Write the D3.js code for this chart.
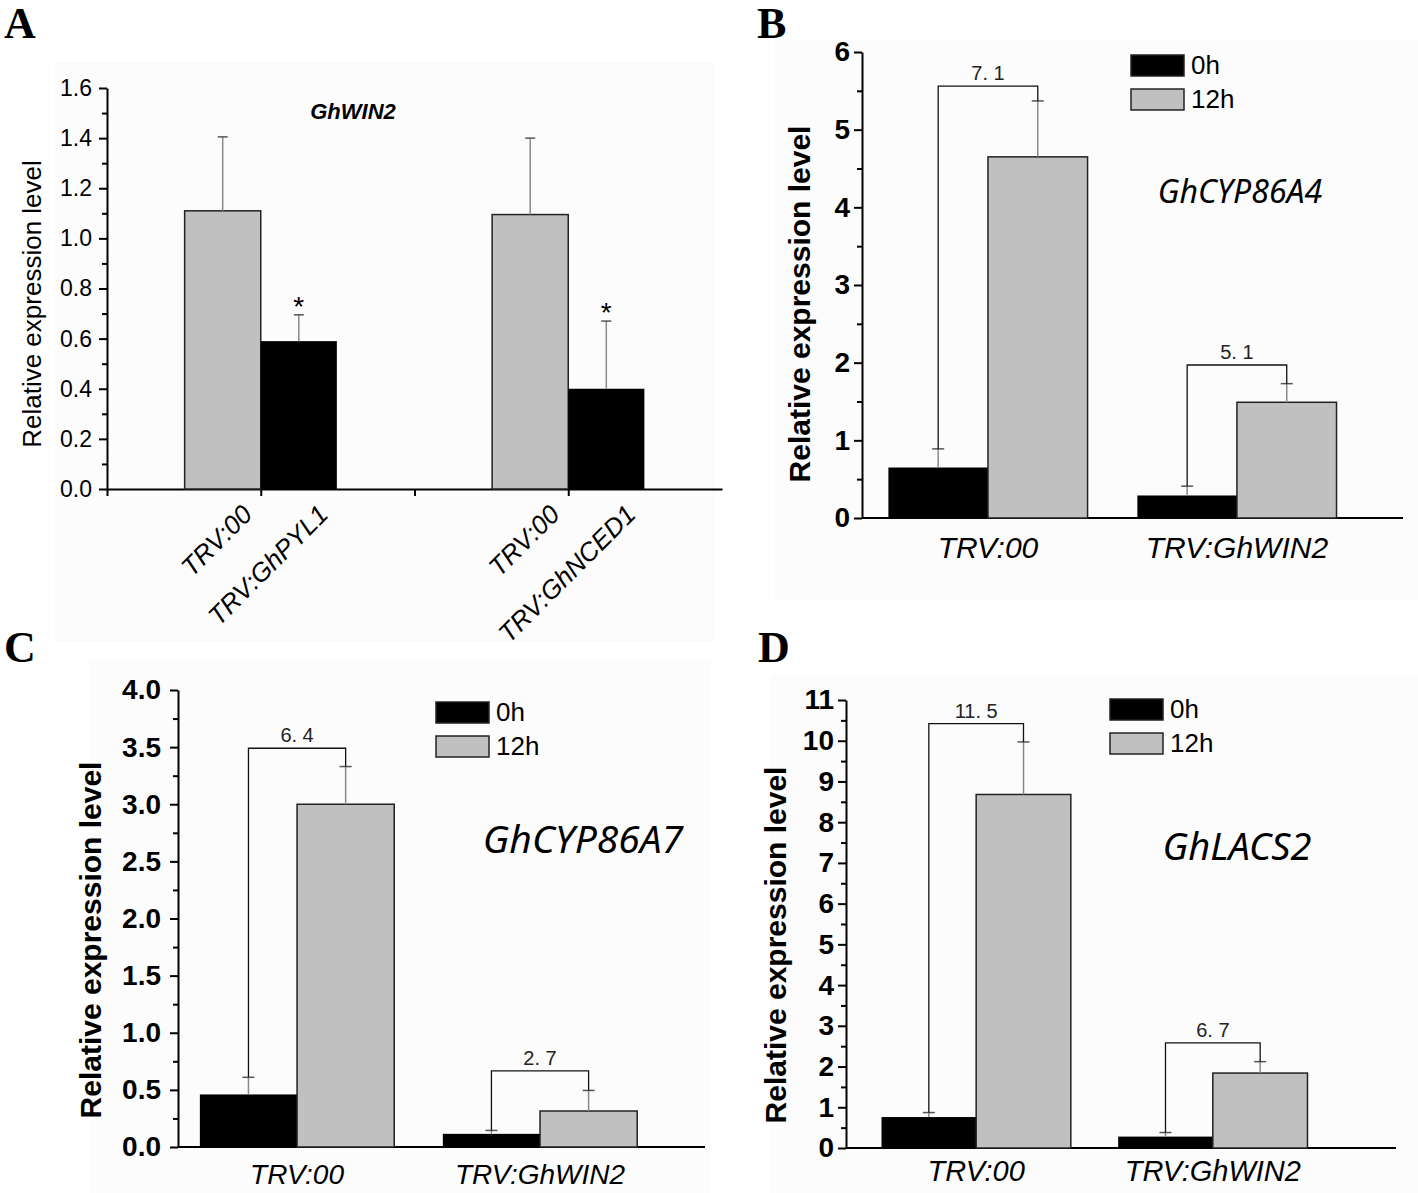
<!DOCTYPE html>
<html><head><meta charset="utf-8">
<script src="https://cdn.jsdelivr.net/npm/d3@7"></script>
<style>body{margin:0;background:#fff}svg{display:block}</style>
</head><body>
<svg id="chart" width="1418" height="1193"></svg>
<script>
// ---------- DATA ----------
// Panel A (GhWIN2)
const aControlLabels = ["TRV:00", "TRV:00"];
const aSilencedLabels = ["TRV:GhPYL1", "TRV:GhNCED1"];
const aControl = [1.11, 1.095];
const aControlErr = [0.295, 0.305];
const aSilenced = [0.59, 0.40];
const aSilencedErr = [0.105, 0.27];
const aSignif = ["*", "*"];
const aTicks = [0, 0.2, 0.4, 0.6, 0.8, 1.0, 1.2, 1.4, 1.6];

// Panels B, C, D share groups and series
const groups = ["TRV:00", "TRV:GhWIN2"];
const seriesNames = ["0h", "12h"];

const b0h = [0.65, 0.29], b0hErr = [0.24, 0.12];
const b12h = [4.65, 1.49], b12hErr = [0.72, 0.24];
const bFold = ["7. 1", "5. 1"], bBracket = [5.56, 1.97];
const bTicks = [0, 1, 2, 3, 4, 5, 6];

const c0h = [0.46, 0.115], c0hErr = [0.15, 0.03];
const c12h = [3.0, 0.315], c12hErr = [0.33, 0.18];
const cFold = ["6. 4", "2. 7"], cBracket = [3.49, 0.666];
const cTicks = [0, 0.5, 1.0, 1.5, 2.0, 2.5, 3.0, 3.5, 4.0];

const d0h = [0.76, 0.28], d0hErr = [0.11, 0.10];
const d12h = [8.68, 1.84], d12hErr = [1.29, 0.28];
const dFold = ["11. 5", "6. 7"], dBracket = [10.42, 2.58];
const dTicks = [0, 1, 2, 3, 4, 5, 6, 7, 8, 9, 10, 11];

// ---------- STYLE ----------
const GRAY = "#c0c0c0", BLACK = "#000", ERR = "#8a8a8a";
const SANS = "'Liberation Sans', Arial, sans-serif";
const svg = d3.select("#chart");

function bg(x, y, w, h) {
  svg.append("rect").attr("x", x).attr("y", y).attr("width", w).attr("height", h).attr("fill", "#fcfcfc");
}
bg(55, 62, 660, 580); bg(775, 40, 643, 560); bg(90, 660, 620, 533); bg(770, 675, 648, 518);

function panelLetter(t, x, y) {
  svg.append("text").attr("x", x).attr("y", y).text(t)
    .attr("font-family", "'Liberation Serif', 'Times New Roman', serif")
    .attr("font-weight", "bold").attr("font-size", 44);
}
panelLetter("A", 4, 38); panelLetter("B", 757, 38); panelLetter("C", 4, 662); panelLetter("D", 758, 662);

function errBar(g, x, yTop, yEnd, capW) {
  g.append("line").attr("x1", x).attr("x2", x).attr("y1", yTop).attr("y2", yEnd)
    .attr("stroke", ERR).attr("stroke-width", 1.5);
  g.append("line").attr("x1", x - capW).attr("x2", x + capW).attr("y1", yEnd).attr("y2", yEnd)
    .attr("stroke", "#555").attr("stroke-width", 1.5);
}

function yAxes(g, y, xAxis, major, minor, fmt, opts) {
  const ax = g.append("g").attr("transform", `translate(${xAxis},0)`)
    .call(d3.axisLeft(y).tickValues(major).tickFormat(fmt).tickSize(opts.major).tickSizeOuter(0).tickPadding(opts.pad));
  ax.select(".domain").attr("stroke-width", 2);
  ax.selectAll(".tick line").attr("stroke-width", 2);
  ax.selectAll(".tick text").attr("font-family", SANS).attr("font-size", opts.fs)
    .attr("font-weight", opts.bold ? "bold" : "normal").attr("fill", "#000");
  const mn = g.append("g").attr("transform", `translate(${xAxis},0)`)
    .call(d3.axisLeft(y).tickValues(minor).tickFormat("").tickSize(opts.minor).tickSizeOuter(0));
  mn.select(".domain").remove();
  mn.selectAll(".tick line").attr("stroke-width", 2);
}

// ---------- PANEL A ----------
(function () {
  const g = svg.append("g");
  const y = d3.scaleLinear().domain([0, 1.6]).range([489, 88]);
  const x = d3.scaleLinear().domain([0, 4]).range([107, 722]);
  const groupPos = [1, 3];
  const half = 0.495;
  const minor = d3.range(0.1, 1.6, 0.2);
  yAxes(g, y, 107, aTicks, minor, d3.format(".1f"), { major: 8, minor: 5, pad: 7, fs: 23, bold: false });
  const xa = g.append("g").attr("transform", `translate(0,${y(0)})`)
    .call(d3.axisBottom(x).tickValues([0, 1, 2, 3]).tickFormat("").tickSize(7).tickSizeOuter(0));
  xa.select(".domain").attr("stroke-width", 2);
  xa.selectAll(".tick line").attr("stroke-width", 2);

  groupPos.forEach((p, i) => {
    g.append("rect").attr("x", x(p - half)).attr("y", y(aControl[i]))
      .attr("width", x(p) - x(p - half)).attr("height", y(0) - y(aControl[i]))
      .attr("fill", GRAY).attr("stroke", "#222").attr("stroke-width", 1.5);
    errBar(g, x(p - half / 2), y(aControl[i]), y(aControl[i] + aControlErr[i]), 5);
    g.append("rect").attr("x", x(p)).attr("y", y(aSilenced[i]))
      .attr("width", x(p + half) - x(p)).attr("height", y(0) - y(aSilenced[i]))
      .attr("fill", BLACK);
    errBar(g, x(p + half / 2), y(aSilenced[i]), y(aSilenced[i] + aSilencedErr[i]), 5);
    g.append("text").attr("x", x(p + half / 2)).attr("y", y(aSilenced[i] + aSilencedErr[i]) + 1)
      .attr("text-anchor", "middle").attr("font-family", SANS).attr("font-size", 28).text(aSignif[i]);
    [[aControlLabels[i], p - half / 2], [aSilencedLabels[i], p + half / 2]].forEach(([t, c]) => {
      g.append("text").attr("transform", `translate(${x(c) + 31},516) rotate(-45)`)
        .attr("text-anchor", "end").attr("font-family", SANS).attr("font-style", "italic")
        .attr("font-size", 26).text(t);
    });
  });
  g.append("text").attr("x", 353).attr("y", 119).attr("text-anchor", "middle")
    .attr("font-family", SANS).attr("font-weight", "bold").attr("font-style", "italic")
    .attr("font-size", 22).text("GhWIN2");
  g.append("text").attr("transform", "translate(41,304) rotate(-90)").attr("text-anchor", "middle")
    .attr("font-family", SANS).attr("font-size", 26).text("Relative expression level");
})();

// ---------- PANELS B, C, D ----------
function grouped(cfg) {
  const g = svg.append("g");
  const y = d3.scaleLinear().domain(cfg.yDomain).range(cfg.yRange);
  const x = d3.scaleLinear().domain(cfg.xDomain).range(cfg.xRange);
  const w = 0.4;
  yAxes(g, y, cfg.xRange[0], cfg.ticks, cfg.minor, cfg.fmt, { major: 8, minor: 5, pad: cfg.pad, fs: 28, bold: true });
  g.append("line").attr("x1", cfg.xRange[0]).attr("x2", cfg.xRange[1])
    .attr("y1", y(0)).attr("y2", y(0)).attr("stroke", "#000").attr("stroke-width", 2);

  groups.forEach((name, i) => {
    const p = i + 1;
    g.append("rect").attr("x", x(p - w)).attr("y", y(cfg.s0[i]))
      .attr("width", x(p) - x(p - w)).attr("height", y(0) - y(cfg.s0[i])).attr("fill", BLACK);
    errBar(g, x(p - w / 2), y(cfg.s0[i]), y(cfg.s0[i] + cfg.e0[i]), 6);
    g.append("rect").attr("x", x(p)).attr("y", y(cfg.s12[i]))
      .attr("width", x(p + w) - x(p)).attr("height", y(0) - y(cfg.s12[i]))
      .attr("fill", GRAY).attr("stroke", "#222").attr("stroke-width", 1.5);
    errBar(g, x(p + w / 2), y(cfg.s12[i]), y(cfg.s12[i] + cfg.e12[i]), 6);
    const yb = y(cfg.bracket[i]);
    g.append("path")
      .attr("d", `M${x(p - w / 2)},${y(cfg.s0[i] + cfg.e0[i])}V${yb}H${x(p + w / 2)}V${y(cfg.s12[i] + cfg.e12[i])}`)
      .attr("fill", "none").attr("stroke", "#111").attr("stroke-width", 1.3);
    g.append("text").attr("x", x(p)).attr("y", yb - 6).attr("text-anchor", "middle")
      .attr("font-family", SANS).attr("font-size", 20).attr("fill", "#222").text(cfg.fold[i]);
    g.append("text").attr("x", x(p)).attr("y", cfg.xLabelY).attr("text-anchor", "middle")
      .attr("font-family", SANS).attr("font-style", "italic").attr("font-size", cfg.xLabelSize).text(name);
  });
  const fills = [BLACK, GRAY];
  seriesNames.forEach((s, k) => {
    const ly = cfg.legend[1] + k * 34;
    g.append("rect").attr("x", cfg.legend[0]).attr("y", ly).attr("width", 53).attr("height", 21)
      .attr("fill", fills[k]).attr("stroke", "#222").attr("stroke-width", 1.5);
    g.append("text").attr("x", cfg.legend[0] + 60).attr("y", ly + 19)
      .attr("font-family", SANS).attr("font-size", 26).text(s);
  });
  g.append("text").attr("x", cfg.gene[0]).attr("y", cfg.gene[1]).attr("text-anchor", "middle")
    .attr("font-family", "'Noto Sans', 'Open Sans', sans-serif").attr("font-style", "italic")
    .attr("font-size", cfg.gene[2]).text(cfg.gene[3]);
  g.append("text").attr("transform", `translate(${cfg.yLabel[0]},${cfg.yLabel[1]}) rotate(-90)`)
    .attr("text-anchor", "middle").attr("font-family", SANS).attr("font-weight", "bold")
    .attr("font-size", 30).text("Relative expression level");
}

grouped({
  yDomain: [0, 6], yRange: [518, 52], xDomain: [0.494, 2.667], xRange: [862, 1403],
  ticks: bTicks, minor: d3.range(0.5, 6, 1), fmt: d3.format("d"), pad: 4,
  s0: b0h, e0: b0hErr, s12: b12h, e12: b12hErr, fold: bFold, bracket: bBracket,
  xLabelY: 558, xLabelSize: 30, legend: [1131, 55], gene: [1240, 203, 32, "GhCYP86A4"], yLabel: [810, 304]
});
grouped({
  yDomain: [0, 4], yRange: [1147, 690], xDomain: [0.51, 2.679], xRange: [178, 705],
  ticks: cTicks, minor: d3.range(0.25, 4, 0.5), fmt: d3.format(".1f"), pad: 9,
  s0: c0h, e0: c0hErr, s12: c12h, e12: c12hErr, fold: cFold, bracket: cBracket,
  xLabelY: 1184, xLabelSize: 28, legend: [436, 702], gene: [583, 853, 39, "GhCYP86A7"], yLabel: [101, 940]
});
grouped({
  yDomain: [0, 11], yRange: [1148, 700], xDomain: [0.45, 2.774], xRange: [846, 1396],
  ticks: dTicks, minor: d3.range(0.5, 11, 1), fmt: d3.format("d"), pad: 4,
  s0: d0h, e0: d0hErr, s12: d12h, e12: d12hErr, fold: dFold, bracket: dBracket,
  xLabelY: 1181, xLabelSize: 29, legend: [1110, 699], gene: [1237, 860, 38, "GhLACS2"], yLabel: [786, 945]
});
</script>
</body></html>
